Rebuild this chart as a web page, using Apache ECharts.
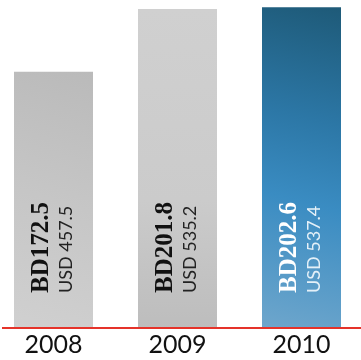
<!DOCTYPE html>
<html>
<head>
<meta charset="utf-8">
<script src="https://cdn.jsdelivr.net/npm/echarts@6/dist/echarts.min.js"></script>
<style>
  html, body { margin: 0; padding: 0; background: #fff; }
  #chart { width: 361px; height: 360px; }
</style>
</head>
<body>
<div id="chart"></div>
<script>
// values
const years = ['2008', '2009', '2010'];
const bdValues = [172.5, 201.8, 202.6];
const usdValues = [457.5, 535.2, 537.4];

// one fill per bar: two greys, then the blue one
const fills = [
  new echarts.graphic.LinearGradient(1, 0, 0, 1, [
    { offset: 0, color: '#bababa' },
    { offset: 0.5, color: '#c6c6c6' },
    { offset: 1, color: '#d0d0d0' }
  ]),
  new echarts.graphic.LinearGradient(0, 0, 0, 1, [
    { offset: 0, color: '#d0d0d0' },
    { offset: 0.6, color: '#cbcbcb' },
    { offset: 1, color: '#bdbdbd' }
  ]),
  new echarts.graphic.LinearGradient(1, 0, 0, 1, [
    { offset: 0, color: '#1e5a78' },
    { offset: 0.35, color: '#2c77a6' },
    { offset: 0.6, color: '#3a8cc2' },
    { offset: 1, color: '#6ea6cc' }
  ])
];

const chart = echarts.init(document.getElementById('chart'));

const barData = bdValues.map((v, i) => {
  const last = i === bdValues.length - 1;
  return {
    value: v,
    itemStyle: { color: fills[i] },
    label: {
      rich: {
        bd: { fontFamily: 'Liberation Serif', fontWeight: 'bold', fontSize: 25, lineHeight: 26, color: last ? '#ffffff' : '#111' },
        usd: { fontFamily: 'Lato', fontSize: 18, lineHeight: 24, color: last ? '#e4f0f8' : '#222' }
      }
    }
  };
});

chart.setOption({
  animation: false,
  grid: { left: 53.5, right: 59.5, top: 0, bottom: 32 },
  xAxis: {
    type: 'category',
    data: years,
    boundaryGap: false,
    axisTick: { show: false },
    axisLine: { show: false },
    axisLabel: { fontFamily: 'Lato', fontSize: 25, color: '#111', margin: 4 }
  },
  yAxis: {
    type: 'value',
    min: 53,
    max: 206,
    show: false,
    splitLine: { show: false }
  },
  // red base line runs the full width, past the grid
  graphic: [{
    type: 'line',
    shape: { x1: 2, y1: 328, x2: 361, y2: 328 },
    style: { stroke: '#e5332a', lineWidth: 2 },
    z: 10
  }],
  series: [
    {
      type: 'bar',
      data: barData,
      barWidth: 79,
      label: {
        show: true,
        position: 'insideBottom',
        distance: 35,
        rotate: 90,
        align: 'left',
        verticalAlign: 'middle',
        formatter: (p) => '{bd|BD' + bdValues[p.dataIndex] + '}\n{usd|USD ' + usdValues[p.dataIndex] + '}'
      }
    }
  ]
});
</script>
</body>
</html>
